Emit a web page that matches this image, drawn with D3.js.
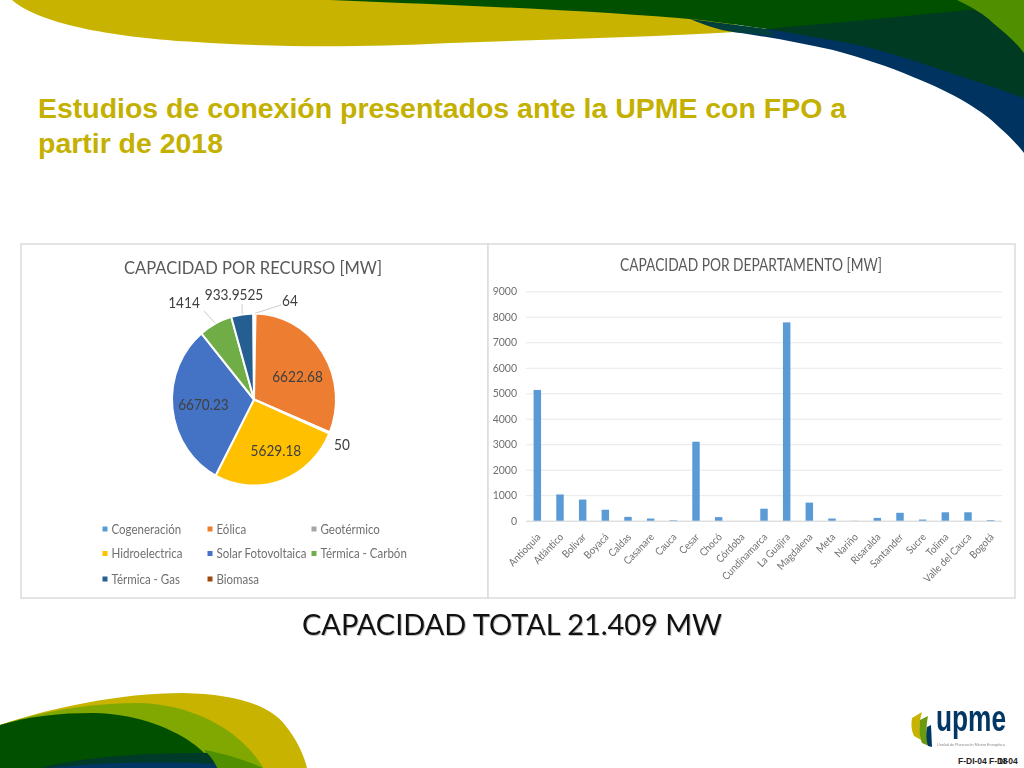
<!DOCTYPE html>
<html>
<head>
<meta charset="utf-8">
<script src="https://cdn.jsdelivr.net/npm/d3@7"></script>
<style>
html, body { margin:0; padding:0; background:#fff; }
svg { display:block; }
.soft { filter: blur(0.5px); }
</style>
</head>
<body>
<div id="slide"></div>
<script>
// pie data
var recursos = ["Cogeneración","Eólica","Geotérmico","Hidroelectrica","Solar Fotovoltaica","Térmica - Carbón","Térmica - Gas","Biomasa"];
var recursos_mw = [64, 6622.68, 50, 5629.18, 6670.23, 1414, 933.9525, 25];
var recursos_label = ["64","6622.68","50","5629.18","6670.23","1414","933.9525",""];
var recursos_color = ["#5b9bd5","#ed7d31","#a5a5a5","#ffc000","#4472c4","#70ad47","#255e91","#9e480e"];

// bar data
var departamentos = ["Antioquia","Atlántico","Bolívar","Boyacá","Caldas","Casanare","Cauca","Cesar","Chocó","Córdoba","Cundinamarca","La Guajira","Magdalena","Meta","Nariño","Risaralda","Santander","Sucre","Tolima","Valle del Cauca","Bogotá"];
var departamentos_mw = [5130,1030,830,430,150,85,20,3100,140,0,470,7780,710,85,5,110,310,45,330,330,25];
var ticks_mw = [0,1000,2000,3000,4000,5000,6000,7000,8000,9000];

var svg = d3.select("#slide").append("svg")
	.attr("width", 1024)
	.attr("height", 768);

// background shapes of the slide template
var shapes = [
	["#c8b400","M12,0 C40,25 120,38 196,42 C270,47 353,48 450,43 C560,39 650,37 735,32 L735,0 Z"],
	["#00335f","M767,29 L733,32 C770,37 800,43 833,50 C862,58 888,66 913,77 C933,85 950,93 967,103 C980,111 990,118 1000,128 C1010,137 1018,145 1024,153 L1024,0 L767,0 Z"],
	["#003f3c","M690,19 L767,29 L775,36 C760,34 745,33 733,32 C718,30 705,25 690,19 Z"],
	["#003a22","M767,29 C800,35 835,40 867,47 C890,53 912,60 933,67 C965,78 995,87 1024,98 L1024,0 L767,0 Z"],
	["#005000","M330,0 C480,6 600,11 700,20 C725,23 745,26 767,29 C830,23 900,17 967,10 L1024,10 L1024,0 Z"],
	["#4f8f00","M957,0 C972,7 985,15 993,23 C1005,33 1016,42 1024,53 L1024,0 Z"],
	["#c8b400","M0,725 C50,708 120,693 183,693 C235,694 270,705 285,725 C297,740 304,755 307,768 L0,768 Z"],
	["#80a800","M17,720 C60,708 100,703 140,703 C190,705 225,725 245,745 C255,755 260,762 263,768 L0,768 L0,725 Z"],
	["#4f8f00","M205,750 C230,755 250,762 263,768 L205,768 Z"],
	["#005000","M0,725 C30,716 60,713 93,713 C140,714 175,730 195,745 C205,753 213,762 217,768 L0,768 Z"],
	["#003a28","M40,768 C80,757 150,752 207,753 C212,758 215,763 217,768 Z"],
	["#003764","M50,768 C90,763 160,761 214,764 L217,768 Z"]
];
svg.selectAll("path.bg")
	.data(shapes)
	.enter().append("path")
	.attr("class", "bg")
	.attr("fill", function(d){ return d[0]; })
	.attr("d", function(d){ return d[1]; });

// slide title
var slide_title = ["Estudios de conexión presentados ante la UPME con FPO a", "partir de 2018"];
svg.append("text").attr("x", 38).attr("y", 118)
	.attr("textLength", 808).attr("lengthAdjust", "spacingAndGlyphs")
	.style("font", "bold 28px 'Liberation Sans'").style("fill", "#c4b000")
	.text(slide_title[0]);
svg.append("text").attr("x", 38).attr("y", 153)
	.attr("textLength", 185).attr("lengthAdjust", "spacingAndGlyphs")
	.style("font", "bold 28px 'Liberation Sans'").style("fill", "#c4b000")
	.text(slide_title[1]);

// the two pasted chart panels
var soft = svg.append("g").attr("class", "soft");
soft.append("rect").attr("x", 21).attr("y", 244).attr("width", 467).attr("height", 354)
	.attr("fill", "#fff").attr("stroke", "#dcdcdc").attr("stroke-width", 1.5);
soft.append("rect").attr("x", 488).attr("y", 244).attr("width", 527).attr("height", 354)
	.attr("fill", "#fff").attr("stroke", "#dcdcdc").attr("stroke-width", 1.5);

var chart_font = "Lato";

// text narrowed a little, Lato runs wider than the original face
function label(x, y, txt, size, color, squeeze, anchor){
	return soft.append("text")
		.attr("transform", "translate(" + x + "," + y + ") scale(" + squeeze + ",1)")
		.attr("text-anchor", anchor)
		.style("font-family", chart_font).style("font-size", size + "px").style("fill", color)
		.text(txt);
}

soft.append("text").attr("x", 253).attr("y", 274).attr("text-anchor", "middle")
	.attr("textLength", 258).attr("lengthAdjust", "spacingAndGlyphs")
	.style("font-family", chart_font).style("font-size", "18px").style("fill", "#595959")
	.text("CAPACIDAD POR RECURSO [MW]");

// PIE
var pie_r = 82;
var pie_g = soft.append("g").attr("transform", "translate(254,399.5) scale(1,1.05)");
var slices = d3.pie().sort(null)(recursos_mw);
var arc = d3.arc().innerRadius(0).outerRadius(pie_r);
var arc_label = d3.arc().innerRadius(pie_r*0.62).outerRadius(pie_r*0.62);

pie_g.selectAll("path")
	.data(slices)
	.enter().append("path")
	.attr("d", arc)
	.attr("fill", function(d,i){ return recursos_color[i]; })
	.attr("stroke", "#fff")
	.attr("stroke-width", 2);

// labels inside the slices, nudged off the centroid like the original
[[1,1,7],[3,5,1],[4,0,0]].forEach(function(n){
	var c = arc_label.centroid(slices[n[0]]);
	label(254 + c[0] + n[1], 399.5 + c[1]*1.05 + 5 + n[2], recursos_label[n[0]], 14.5, "#404040", 0.94, "middle");
});

// labels outside, with leader lines from the slice edge
var outside = [
	{i:0, x:290, y:306, lx:281, ly:305},
	{i:2, x:342, y:450, lx:0, ly:0},
	{i:5, x:184, y:308, lx:204, ly:311},
	{i:6, x:234, y:300, lx:242, ly:304}
];
outside.forEach(function(o){
	var a = (slices[o.i].startAngle + slices[o.i].endAngle)/2;
	if(o.lx>0){
		soft.append("path")
			.attr("d", "M" + (254 + Math.sin(a)*pie_r) + "," + (399.5 - Math.cos(a)*pie_r*1.05) + " L" + o.lx + "," + o.ly)
			.attr("fill", "none").attr("stroke", "#bfbfbf").attr("stroke-width", 0.8);
	}
	label(o.x, o.y, recursos_label[o.i], 14.5, "#404040", 0.94, "middle");
});

// legend
var legend_x = [105, 210, 314];
var legend_y = [529, 553.5, 579];
recursos.forEach(function(name, i){
	var col = i % 3, row = Math.floor(i/3);
	soft.append("rect")
		.attr("x", legend_x[col]-2.5).attr("y", legend_y[row]-2.5)
		.attr("width", 5).attr("height", 5)
		.attr("fill", recursos_color[i]);
	label(legend_x[col]+6.5, legend_y[row]+4.5, name, 12.6, "#707070", 0.915, "start");
});

// BARS
soft.append("text").attr("x", 751).attr("y", 271).attr("text-anchor", "middle")
	.attr("textLength", 262).attr("lengthAdjust", "spacingAndGlyphs")
	.style("font-family", chart_font).style("font-size", "16.5px").style("fill", "#595959")
	.text("CAPACIDAD POR DEPARTAMENTO [MW]");

var x = d3.scaleBand().domain(departamentos).range([526, 1002]).paddingInner(0.67).paddingOuter(0.335);
var y = d3.scaleLinear().domain([0, 9000]).range([520.7, 291.3]);

var y_axis = soft.append("g").attr("transform", "translate(526,0)")
	.call(d3.axisLeft(y).tickValues(ticks_mw).tickFormat(d3.format("d")).tickSize(-476).tickPadding(9));
y_axis.select(".domain").remove();
y_axis.selectAll("line").attr("stroke", function(d){ return d===0 ? "#d0d0d0" : "#e8e8e8"; });
y_axis.selectAll("text").style("font-family", chart_font).style("font-size", "10.5px").style("fill", "#707070");

soft.selectAll("rect.bar")
	.data(departamentos_mw)
	.enter().append("rect")
	.attr("class", "bar")
	.attr("x", function(d,i){ return x(departamentos[i]); })
	.attr("width", x.bandwidth())
	.attr("y", function(d){ return y(d); })
	.attr("height", function(d){ return y(0) - y(d); })
	.attr("fill", "#5b9bd5");

var x_axis = soft.append("g").attr("transform", "translate(0,520.7)")
	.call(d3.axisBottom(x).tickSize(0).tickPadding(0));
x_axis.select(".domain").remove();
x_axis.selectAll("text")
	.attr("text-anchor", "end")
	.attr("dy", 0)
	.attr("y", 0)
	.attr("transform", "translate(4,17) rotate(-46) scale(0.91,1)")
	.style("font-family", chart_font).style("font-size", "10.5px").style("fill", "#707070");

// total under the panels
svg.append("text").attr("x", 302).attr("y", 635)
	.attr("textLength", 420).attr("lengthAdjust", "spacingAndGlyphs")
	.style("font-family", chart_font).style("font-size", "29px").style("fill", "#111")
	.style("filter", "drop-shadow(1px 1px 0.5px rgba(0,0,0,0.25))")
	.text("CAPACIDAD TOTAL 21.409 MW");

// logo
var logo = svg.append("g").attr("class", "soft");
logo.append("path").attr("fill", "#c8b400").attr("d", "M912,718 L922,712 C919,722 919,730 921,740 L914,736 C911,730 911,724 912,718 Z");
logo.append("path").attr("fill", "#6a9a10").attr("d", "M920,720 L928,716 C926,726 926,736 929,746 L922,743 C919,735 919,728 920,720 Z");
logo.append("path").attr("fill", "#003764").attr("d", "M927,727 L931,725 L932,747 L928,746 C926,740 926,733 927,727 Z");
logo.append("text").attr("transform", "translate(936,731) scale(0.73,1)")
	.style("font", "bold 36px 'Liberation Sans'").style("fill", "#003764")
	.text("upme");
logo.append("text").attr("x", 937).attr("y", 746)
	.attr("textLength", 68).attr("lengthAdjust", "spacingAndGlyphs")
	.style("font", "4px 'Liberation Sans'").style("fill", "#8a8a8a")
	.text("Unidad de Planeación Minero Energética");

// footer codes, overlapped on the original slide
var footer = [[958,"F-DI-04"],[989,"F-DI-04"],[998,"18"]];
footer.forEach(function(f){
	svg.append("text").attr("x", f[0]).attr("y", 764)
		.style("font", "bold 8.5px 'Liberation Sans'").style("fill", "#222")
		.text(f[1]);
});
</script>
</body>
</html>
